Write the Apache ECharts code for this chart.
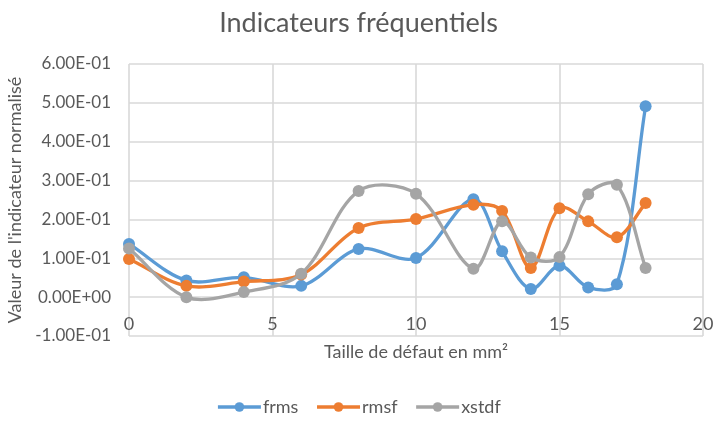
<!DOCTYPE html>
<html>
<head>
<meta charset="utf-8">
<script src="https://cdn.jsdelivr.net/npm/echarts@6/dist/echarts.min.js"></script>
<style>
  html, body { margin: 0; padding: 0; background: #fff; }
  #chart { width: 717px; height: 421px; }
</style>
</head>
<body>
<div id="chart"></div>
<script>
// Defect sizes (mm²) and normalised frequency indicators
const tailles = [0, 2, 4, 6, 8, 10, 12, 13, 14, 15, 16, 17, 18];
const frms  = [0.137, 0.043, 0.051, 0.029, 0.124, 0.101, 0.252, 0.118, 0.021, 0.081, 0.025, 0.033, 0.491];
const rmsf  = [0.098, 0.029, 0.040, 0.058, 0.178, 0.201, 0.238, 0.222, 0.075, 0.229, 0.195, 0.154, 0.242];
const xstdf = [0.125, 0.000, 0.013, 0.060, 0.273, 0.266, 0.073, 0.195, 0.102, 0.103, 0.265, 0.289, 0.075];

const seriesNames = ['frms', 'rmsf', 'xstdf'];
const seriesColors = ['#5B9BD5', '#ED7D31', '#A5A5A5'];

// Value-axis extents
const yMin = -0.1, yMax = 0.6, yStep = 0.1;
const xMin = 0, xMax = 20, xStep = 5;

const FONT = 'Lato, "Open Sans", sans-serif';
const TXT = '#595959';
const GRID = '#D9D9D9';
const LINE_W = 3.3;

// Scientific notation with a two-digit signed exponent: 1.00E-01
function sci(v) {
  const r = Math.round(v * 1e6) / 1e6;
  if (r === 0) return '0.00E+00';
  const parts = r.toExponential(2).split('e');
  const exp = parseInt(parts[1], 10);
  const e = (exp < 0 ? '-' : '+') + String(Math.abs(exp)).padStart(2, '0');
  return parts[0] + 'E' + e;
}

function pairs(ys) { return tailles.map((x, i) => [x, ys[i]]); }

function dist(a, b) { return Math.hypot(b[0] - a[0], b[1] - a[1]); }

// Smoothed segment between point i and i+1 (cardinal spline in pixel space,
// tangents weighted by neighbouring segment lengths)
function splineSegment(ys, color) {
  return function (params, api) {
    const i = params.dataIndex;
    const n = tailles.length;
    if (i >= n - 1) return null;
    const c = k => Math.max(0, Math.min(n - 1, k));
    const p = k => api.coord([tailles[c(k)], ys[c(k)]]);
    const p0 = p(i - 1), p1 = p(i), p2 = p(i + 1), p3 = p(i + 2);
    const t = 1 / 6;
    const d01 = dist(p0, p1), d12 = dist(p1, p2), d23 = dist(p2, p3);
    const f1 = 2 * d12 / (d01 + d12 || 1);
    const f2 = 2 * d12 / (d12 + d23 || 1);
    return {
      type: 'bezierCurve',
      shape: {
        x1: p1[0], y1: p1[1],
        cpx1: p1[0] + (p2[0] - p0[0]) * t * f1, cpy1: p1[1] + (p2[1] - p0[1]) * t * f1,
        cpx2: p2[0] - (p3[0] - p1[0]) * t * f2, cpy2: p2[1] - (p3[1] - p1[1]) * t * f2,
        x2: p2[0], y2: p2[1]
      },
      style: { stroke: color, lineWidth: LINE_W, fill: null, lineCap: 'round' },
      silent: true
    };
  };
}

const allSeries = [frms, rmsf, xstdf];

const series = [];
allSeries.forEach((ys, i) => {
  // point markers (also provide the legend icon)
  series.push({
    name: seriesNames[i],
    type: 'line',
    data: pairs(ys),
    symbol: 'circle',
    symbolSize: 12,
    lineStyle: { width: 0, opacity: 0 },
    itemStyle: { color: seriesColors[i] },
    z: 3 + i * 2
  });
});
allSeries.forEach((ys, i) => {
  // smooth connecting curve
  series.push({
    name: seriesNames[i],
    type: 'custom',
    coordinateSystem: 'cartesian2d',
    data: pairs(ys),
    encode: { x: 0, y: 1 },
    renderItem: splineSegment(ys, seriesColors[i]),
    z: 2 + i * 2
  });
});

const chart = echarts.init(document.getElementById('chart'));
chart.setOption({
  animation: false,
  backgroundColor: '#fff',
  title: {
    text: 'Indicateurs fréquentiels',
    left: 'center',
    top: 5,
    textStyle: { fontFamily: FONT, fontSize: 27, fontWeight: 'normal', color: TXT }
  },
  legend: {
    bottom: 0,
    left: 'center',
    itemWidth: 43,
    itemHeight: 12,
    itemGap: 17,
    textStyle: { fontFamily: FONT, fontSize: 18, color: TXT, padding: [0, 0, 0, -3] },
    data: seriesNames.map((n, i) => ({
      name: n,
      itemStyle: { color: seriesColors[i] },
      lineStyle: { color: seriesColors[i], width: LINE_W, opacity: 1 }
    }))
  },
  grid: { left: 129, right: 14, top: 64, bottom: 85, containLabel: false, outerBoundsMode: 'none' },
  xAxis: {
    type: 'value',
    min: xMin, max: xMax, interval: xStep,
    axisLine: { show: false },
    axisTick: { show: false },
    splitLine: { show: true, lineStyle: { color: GRID, width: 1.6 } },
    axisLabel: { fontFamily: FONT, fontSize: 18, color: TXT, margin: -21 },
    name: 'Taille de défaut en mm²',
    nameLocation: 'middle',
    nameGap: 7,
    nameTextStyle: { fontFamily: FONT, fontSize: 18, color: TXT, verticalAlign: 'top' }
  },
  yAxis: {
    type: 'value',
    min: yMin, max: yMax, interval: yStep,
    axisLine: { show: false },
    axisTick: { show: false },
    splitLine: { show: true, lineStyle: { color: GRID, width: 1.6 } },
    axisLabel: { fontFamily: FONT, fontSize: 17, color: TXT, margin: 18, formatter: sci },
    name: "Valeur de l'indicateur normalisé",
    nameLocation: 'middle',
    nameGap: 86,
    nameTextStyle: { fontFamily: FONT, fontSize: 18, color: TXT }
  },
  series: series
});
</script>
</body>
</html>
